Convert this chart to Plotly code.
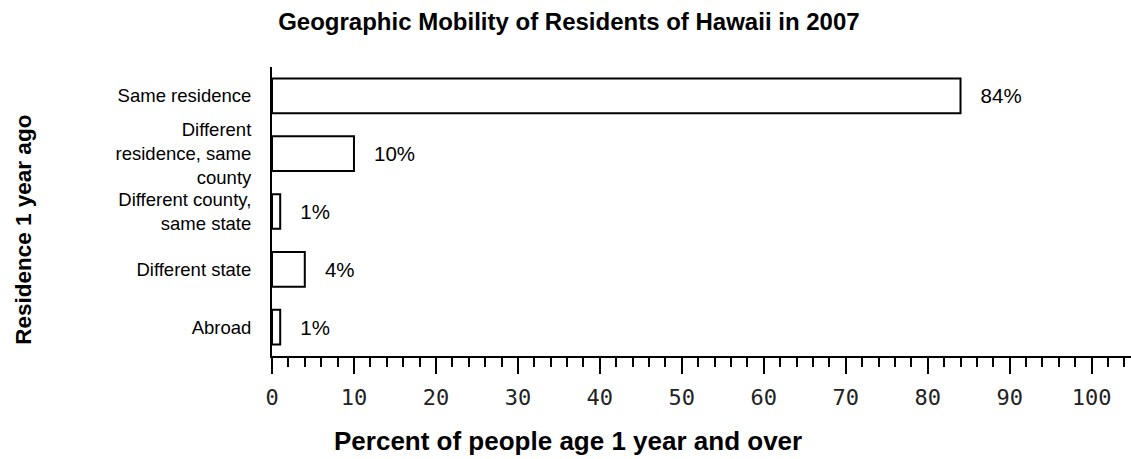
import plotly.graph_objects as go

categories = ["Same residence", "Different<br>residence, same<br>county",
              "Different county,<br>same state", "Different state", "Abroad"]
values = [84, 10, 1, 4, 1]
labels = ["84%", "10%", "1%", "4%", "1%"]
x_ticks = [0, 10, 20, 30, 40, 50, 60, 70, 80, 90, 100]

pad = "\u00a0\u00a0\u00a0"
fig = go.Figure(go.Bar(
    y=categories, x=values, orientation="h",
    marker=dict(color="white", line=dict(color="black", width=2)),
    width=0.6,
    text=[pad + t for t in labels], textposition="outside",
    textfont=dict(family="Liberation Sans, Arial", size=20.5, color="black"),
    cliponaxis=False,
    hoverinfo="skip",
))

fig.update_layout(
    width=1131, height=459,
    paper_bgcolor="white", plot_bgcolor="white",
    margin=dict(l=272, r=0, t=67, b=103, autoexpand=False),
    showlegend=False,
    title=dict(text="<b>Geographic Mobility of Residents of Hawaii in 2007</b>",
               x=0.503, xanchor="center", xref="container", y=0.952, yanchor="middle",
               font=dict(family="Liberation Sans, Arial", size=24, color="black")),
    font=dict(family="Liberation Sans, Arial", size=20, color="black"),
)

fig.update_xaxes(
    range=[0, 104.8], tickvals=x_ticks, ticktext=[str(t) for t in x_ticks],
    ticks="outside", ticklen=16, tickwidth=1.7, tickcolor="black",
    minor=dict(dtick=2, tick0=0, ticks="outside", ticklen=9, tickwidth=1.7, tickcolor="black"),
    showline=True, linecolor="black", linewidth=2,
    showgrid=False, zeroline=False, automargin=False,
    tickfont=dict(family="DejaVu Sans Mono", size=22, color="#222"),
    ticklabelstandoff=5,
)

fig.update_yaxes(
    categoryorder="array", categoryarray=categories[::-1],
    showline=True, linecolor="black", linewidth=2,
    ticks="outside", ticklen=15, tickcolor="rgba(0,0,0,0)",
    showgrid=False, zeroline=False, automargin=False,
    tickfont=dict(family="Liberation Sans, Arial", size=18.5, color="black"),
)

fig.add_annotation(
    text="<b>Percent of people age 1 year and over</b>",
    xref="paper", yref="paper", x=0.345, y=-0.294,
    xanchor="center", yanchor="middle", showarrow=False,
    font=dict(family="Liberation Sans, Arial", size=26, color="black"),
)

fig.add_annotation(
    text="<b>Residence 1 year ago</b>", textangle=-90,
    xref="paper", yref="paper", x=-0.289, y=0.436,
    xanchor="center", yanchor="middle", showarrow=False,
    font=dict(family="Liberation Sans, Arial", size=22.5, color="black"),
)

fig.write_html("out.html", config={"displayModeBar": False},
               post_script="document.body.style.margin='0';")
